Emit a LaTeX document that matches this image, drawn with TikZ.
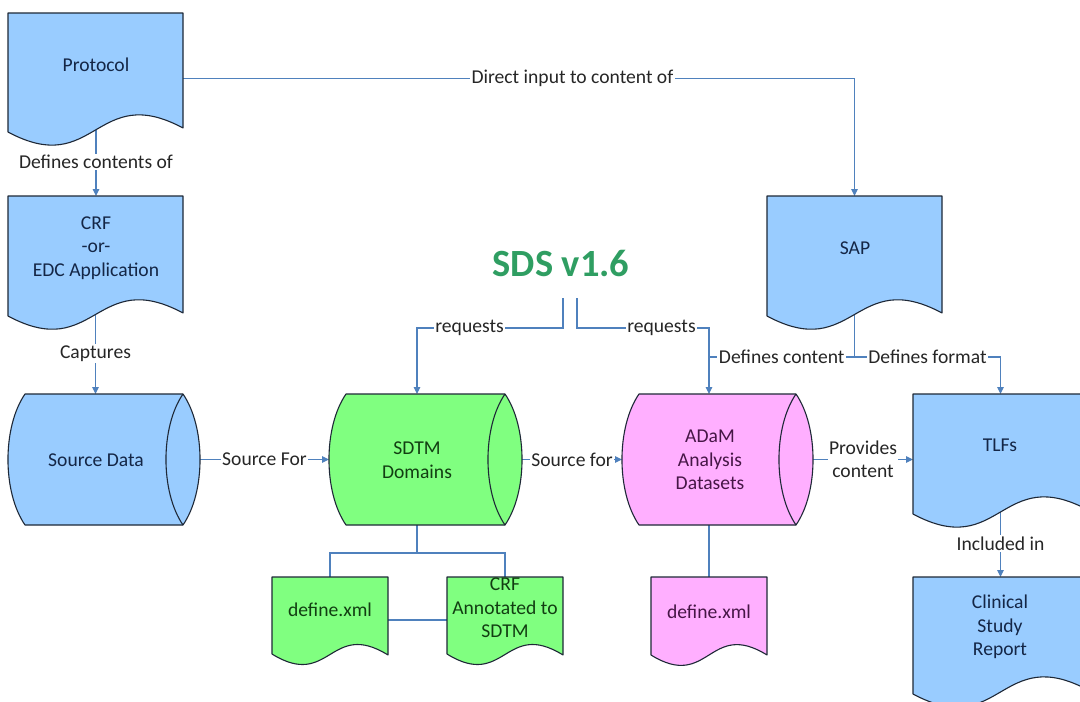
\documentclass[tikz,border=0pt]{standalone}
\usepackage{fontspec}
\setmainfont{Carlito}
\usetikzlibrary{arrows.meta,calc}
\definecolor{bluefill}{RGB}{153,204,255}
\definecolor{greenfill}{RGB}{128,255,128}
\definecolor{pinkfill}{RGB}{255,175,255}
\definecolor{edgecol}{RGB}{30,40,55}
\definecolor{conncol}{RGB}{79,129,189}
\definecolor{bluetxt}{RGB}{20,38,70}
\definecolor{greentxt}{RGB}{18,62,18}
\definecolor{pinktxt}{RGB}{70,22,70}
\definecolor{lblcol}{RGB}{38,38,38}
\definecolor{sdsgreen}{RGB}{47,158,98}
\tikzset{
  every node/.style={font=\fontsize{19.6}{23.5}\selectfont},
  shapebox/.style={draw=none, inner sep=0pt, outer sep=0pt},
  boxtext/.style={align=center, inner sep=0pt},
  connector/.style={draw=conncol, line width=1.1pt},
  arrowed/.style={connector, -{Triangle[length=7pt,width=6.5pt]}},
  lab/.style={fill=white, text=lblcol, inner sep=1.5pt, align=center},
  outline/.style={draw=edgecol, line width=1.1pt, line join=round},
}
% document shape: #1 node, #2 fill, #3 wave depth, #4 left offset
\newcommand\docshape[4]{%
  \path[outline, fill=#2] (#1.north west) -- (#1.north east) -- (#1.south east)
    .. controls ($(#1.south)+(0,-#3)$) and ($(#1.south)+(0,#3+#4)$) ..
    ($(#1.south west)+(0,#4)$) -- cycle;}
% horizontal cylinder: #1 node, #2 fill
\newcommand\cylshape[2]{%
  \path[outline, fill=#2] ($(#1.north west)+(17,0)$) -- ($(#1.north east)+(-17,0)$)
    .. controls +(22.7,33) and +(22.7,-33) .. ($(#1.south east)+(-17,0)$)
    -- ($(#1.south west)+(17,0)$)
    .. controls +(-22.7,-33) and +(-22.7,33) .. ($(#1.north west)+(17,0)$) -- cycle;
  \draw[outline] ($(#1.north east)+(-17,0)$)
    .. controls +(-22.7,33) and +(-22.7,-33) .. ($(#1.south east)+(-17,0)$);}
\begin{document}
\begin{tikzpicture}[x=1pt,y=-1pt]
\useasboundingbox (0,0) rectangle (1080,702);
\clip (0,0) rectangle (1080,702);
\fill[white] (0,0) rectangle (1080,702);

% shape placeholders
\node[shapebox, minimum width=175pt, minimum height=115pt] (protocol) at (95.5,70.5) {};
\node[shapebox, minimum width=175pt, minimum height=117pt] (crf) at (95.5,254.5) {};
\node[shapebox, minimum width=175pt, minimum height=117pt] (sap) at (854.5,254.5) {};
\node[shapebox, minimum width=175pt, minimum height=116pt] (tlf) at (1000.5,452) {};
\node[shapebox, minimum width=175pt, minimum height=113pt] (csr) at (1000.5,633.5) {};
\node[shapebox, minimum width=116pt, minimum height=78pt] (def1) at (330,616) {};
\node[shapebox, minimum width=116pt, minimum height=78pt] (crfa) at (505,616) {};
\node[shapebox, minimum width=116pt, minimum height=78pt] (def2) at (709,616) {};
\node[shapebox, minimum width=192pt, minimum height=131pt] (source) at (104,459.5) {};
\node[shapebox, minimum width=193pt, minimum height=131pt] (sdtm) at (425.5,459.5) {};
\node[shapebox, minimum width=191pt, minimum height=131pt] (adam) at (717.5,459.5) {};

% text anchors for connectors
\coordinate (protocol-x) at (96,65);
\coordinate (sdtm-x) at (417,460);
\coordinate (adam-x) at (709,460);
\coordinate (ybar) at (0,357);
\coordinate (ybar2) at (0,328);
\coordinate (ybar3) at (0,553);
\coordinate (sdsL) at (563,298);
\coordinate (sdsR) at (577,298);

% connectors
\draw[arrowed] (protocol-x |- protocol.south) -- node[lab]{Defines contents of} (protocol-x |- crf.north);
\draw[arrowed] (crf.south) -- node[lab]{Captures} (crf.south |- source.north);
\draw[arrowed] (source.east) -- node[lab]{Source For} (sdtm.west);
\draw[arrowed] (sdtm.east) -- node[lab]{Source for} (adam.west);
\draw[arrowed] (adam.east) -- node[lab]{Provides\\content} (adam.east -| tlf.west);
\draw[arrowed] ([yshift=-8pt]protocol.east) -| node[lab,pos=0.29]{Direct input to content of} (sap.north);
\draw[connector] (sap.south) -- (sap.south |- ybar) -- node[lab]{Defines content} (adam-x |- ybar);
\draw[arrowed] (sap.south |- ybar) -- node[lab]{Defines format} (tlf.north |- ybar) -- (tlf.north);
\draw[arrowed] (sdsL) -- (sdsL |- ybar2) -- node[lab,pos=0.64]{requests} (sdtm-x |- ybar2) -- (sdtm-x |- sdtm.north);
\draw[arrowed] (sdsR) -- (sdsR |- ybar2) -- node[lab,pos=0.64]{requests} (adam-x |- ybar2) -- (adam-x |- adam.north);
\draw[connector] (sdtm-x |- sdtm.south) -- (sdtm-x |- ybar3);
\draw[connector] (def1.north) |- (crfa.north |- ybar3) -- (crfa.north);
\draw[connector] ([yshift=-4pt]def1.east) -- ([yshift=-4pt]crfa.west);
\draw[connector] (adam-x |- adam.south) -- (def2.north);
\draw[arrowed] (tlf.south) -- node[lab]{Included in} (csr.north);

% shapes
\docshape{protocol}{bluefill}{47}{4}
\docshape{crf}{bluefill}{47}{3}
\docshape{sap}{bluefill}{47}{3}
\docshape{tlf}{bluefill}{47}{4}
\docshape{csr}{bluefill}{47}{4}
\docshape{def1}{greenfill}{36}{-1}
\docshape{crfa}{greenfill}{36}{-1}
\docshape{def2}{pinkfill}{36}{0}
\cylshape{source}{bluefill}
\cylshape{sdtm}{greenfill}
\cylshape{adam}{pinkfill}

% texts
\node[boxtext, text=bluetxt] (protocol-t) at (96,65) {Protocol};
\node[boxtext, text=bluetxt] (crf-t) at (96,248) {CRF\\-or-\\EDC Application};
\node[boxtext, text=bluetxt] (sap-t) at (855,248) {SAP};
\node[boxtext, text=bluetxt] (tlf-t) at (1000,445) {TLFs};
\node[boxtext, text=bluetxt] (csr-t) at (1000,627) {Clinical\\Study\\Report};
\node[boxtext, text=greentxt] (def1-t) at (330,610) {define.xml};
\node[boxtext, text=greentxt] (crfa-t) at (505,608) {CRF\\Annotated to\\SDTM};
\node[boxtext, text=pinktxt] (def2-t) at (709,612) {define.xml};
\node[boxtext, text=bluetxt] (source-t) at (96,460) {Source Data};
\node[boxtext, text=greentxt] (sdtm-t) at (417,460) {SDTM\\Domains};
\node[boxtext, text=pinktxt] (adam-t) at (710,460) {ADaM\\Analysis\\Datasets};
\node[inner sep=0pt, text=sdsgreen, font=\fontsize{38.5}{40}\selectfont\bfseries] (sds) at (561,263) {SDS v1.6};
\end{tikzpicture}
\end{document}
